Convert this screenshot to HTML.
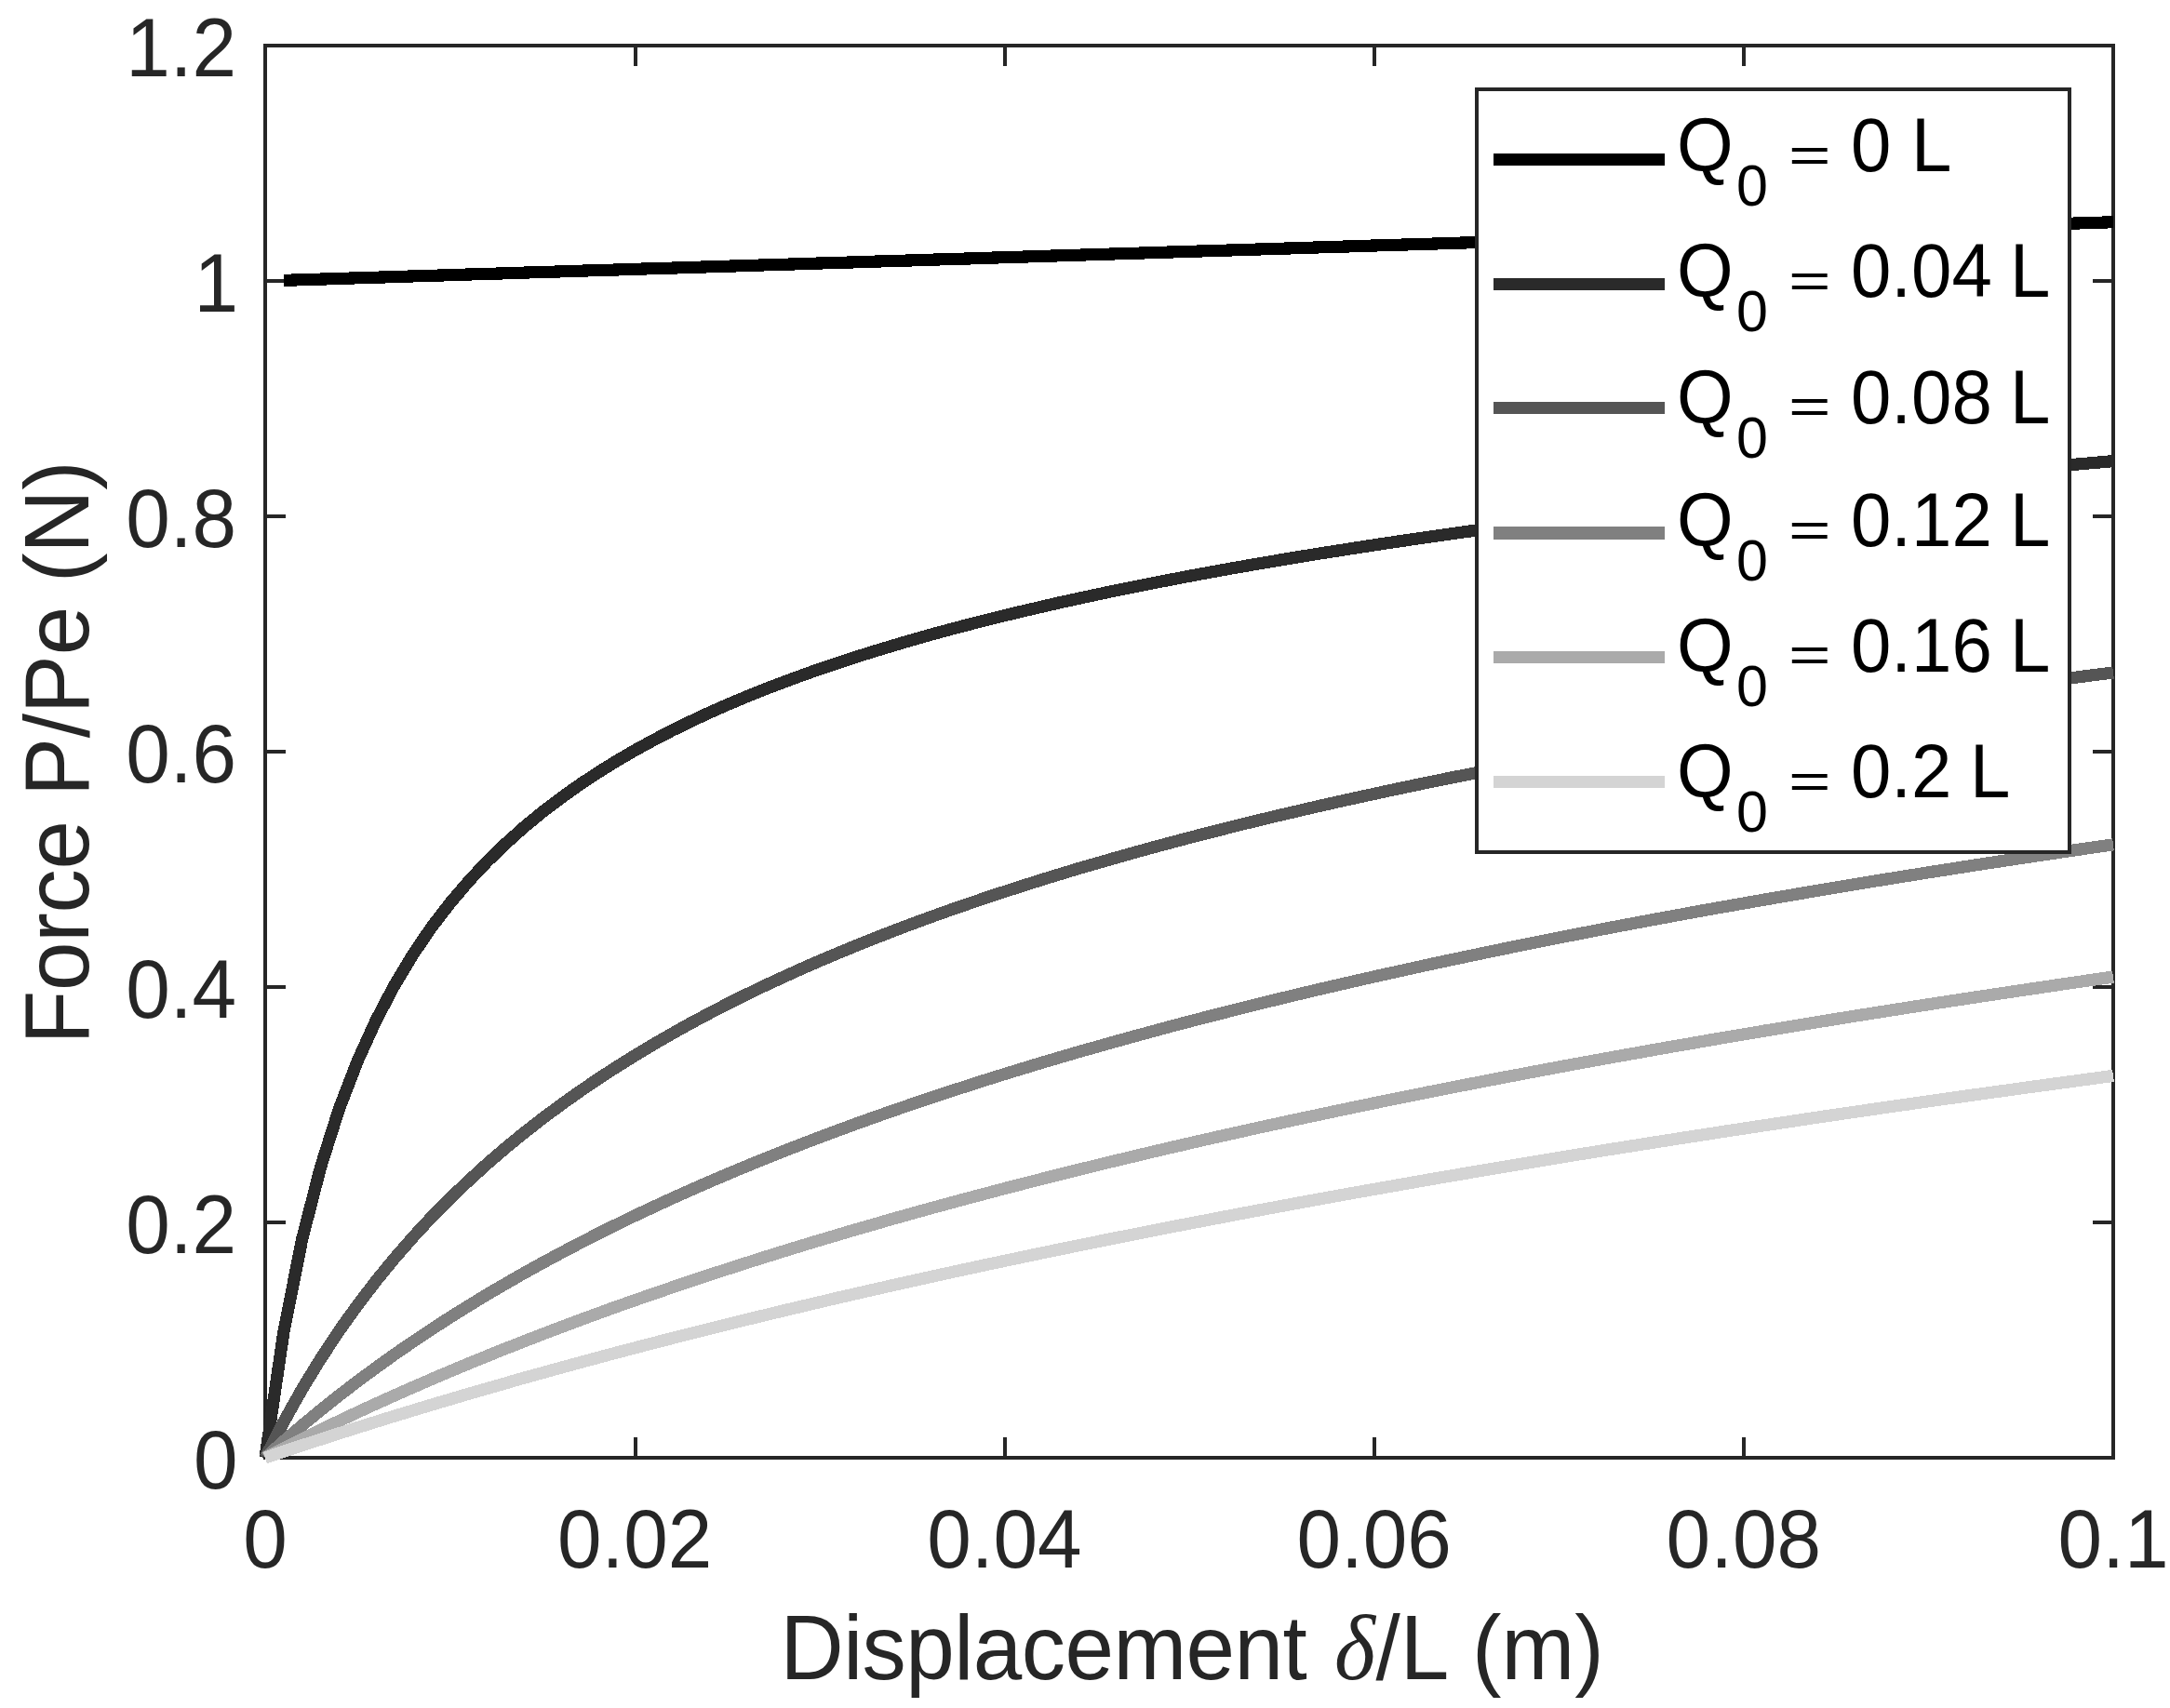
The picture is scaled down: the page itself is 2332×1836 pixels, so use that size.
<!DOCTYPE html>
<html lang="en"><head><meta charset="utf-8"><title>Force vs displacement</title>
<style>html,body{margin:0;padding:0;background:#fff}svg{display:block}text{font-family:"Liberation Sans",Arial,Helvetica,sans-serif;fill:#262626}.tk{font-size:85.5px}.lb{font-size:94.5px}.lg{font-size:78px;fill:#000}.sub{font-size:61px}.dl{font-family:"Liberation Serif","DejaVu Serif",serif;font-style:italic}</style></head><body>
<svg width="2332" height="1836" viewBox="0 0 2332 1836">
<rect width="2332" height="1836" fill="#fff"/>
<g stroke="#262626" stroke-width="4" fill="none" stroke-linecap="butt">
<rect x="285" y="49" width="1986" height="1518"/>
<path d="M683 1567V1545M683 49V71M1080 1567V1545M1080 49V71M1477 1567V1545M1477 49V71M1874 1567V1545M1874 49V71M285 1314H307M2271 1314H2249M285 1061H307M2271 1061H2249M285 808H307M2271 808H2249M285 555H307M2271 555H2249M285 302H307M2271 302H2249"/>
</g>
<g fill="none" stroke-width="13.2" stroke-linejoin="round" stroke-linecap="butt" shape-rendering="crispEdges">
<polyline stroke="#000000" points="304.9,301.4 324.7,300.7 344.6,300.1 364.4,299.5 384.3,298.8 404.2,298.2 424.0,297.6 443.9,296.9 463.7,296.3 483.6,295.7 503.5,295.0 523.3,294.4 543.2,293.8 563.0,293.1 582.9,292.5 602.8,291.9 622.6,291.2 642.5,290.6 662.3,290.0 682.2,289.3 702.1,288.7 721.9,288.1 741.8,287.5 761.6,286.8 781.5,286.2 801.4,285.6 821.2,284.9 841.1,284.3 860.9,283.7 880.8,283.0 900.7,282.4 920.5,281.8 940.4,281.1 960.2,280.5 980.1,279.9 1000.0,279.2 1019.8,278.6 1039.7,278.0 1059.5,277.3 1079.4,276.7 1099.3,276.1 1119.1,275.4 1139.0,274.8 1158.8,274.2 1178.7,273.5 1198.6,272.9 1218.4,272.3 1238.3,271.6 1258.1,271.0 1278.0,270.4 1297.9,269.7 1317.7,269.1 1337.6,268.5 1357.4,267.8 1377.3,267.2 1397.2,266.6 1417.0,265.9 1436.9,265.3 1456.7,264.7 1476.6,264.0 1496.5,263.4 1516.3,262.8 1536.2,262.2 1556.0,261.5 1575.9,260.9 1595.8,260.3 1615.6,259.6 1635.5,259.0 1655.3,258.4 1675.2,257.7 1695.1,257.1 1714.9,256.5 1734.8,255.8 1754.6,255.2 1774.5,254.6 1794.4,253.9 1814.2,253.3 1834.1,252.7 1853.9,252.0 1873.8,251.4 1893.7,250.8 1913.5,250.1 1933.4,249.5 1953.2,248.9 1973.1,248.2 1993.0,247.6 2012.8,247.0 2032.7,246.3 2052.5,245.7 2072.4,245.1 2092.3,244.4 2112.1,243.8 2132.0,243.2 2151.8,242.5 2171.7,241.9 2191.6,241.3 2211.4,240.6 2231.3,240.0 2251.1,239.4 2271.0,238.7"/>
<polyline stroke="#2a2a2a" points="285.0,1567.0 304.9,1431.6 324.7,1331.9 344.6,1254.5 364.4,1192.1 384.3,1140.4 404.2,1096.6 424.0,1058.9 443.9,1025.9 463.7,996.8 483.6,970.9 503.5,947.5 523.3,926.3 543.2,907.0 563.0,889.3 582.9,872.9 602.8,857.8 622.6,843.7 642.5,830.5 662.3,818.2 682.2,806.6 702.1,795.7 721.9,785.4 741.8,775.7 761.6,766.4 781.5,757.6 801.4,749.2 821.2,741.2 841.1,733.6 860.9,726.3 880.8,719.2 900.7,712.5 920.5,706.0 940.4,699.8 960.2,693.8 980.1,688.0 1000.0,682.3 1019.8,676.9 1039.7,671.7 1059.5,666.6 1079.4,661.7 1099.3,656.9 1119.1,652.3 1139.0,647.7 1158.8,643.4 1178.7,639.1 1198.6,634.9 1218.4,630.9 1238.3,626.9 1258.1,623.1 1278.0,619.3 1297.9,615.6 1317.7,612.0 1337.6,608.5 1357.4,605.1 1377.3,601.7 1397.2,598.4 1417.0,595.2 1436.9,592.1 1456.7,589.0 1476.6,585.9 1496.5,582.9 1516.3,580.0 1536.2,577.1 1556.0,574.3 1575.9,571.5 1595.8,568.8 1615.6,566.1 1635.5,563.5 1655.3,560.9 1675.2,558.3 1695.1,555.8 1714.9,553.3 1734.8,550.9 1754.6,548.5 1774.5,546.1 1794.4,543.8 1814.2,541.5 1834.1,539.2 1853.9,537.0 1873.8,534.7 1893.7,532.6 1913.5,530.4 1933.4,528.3 1953.2,526.2 1973.1,524.1 1993.0,522.0 2012.8,520.0 2032.7,518.0 2052.5,516.0 2072.4,514.1 2092.3,512.1 2112.1,510.2 2132.0,508.3 2151.8,506.5 2171.7,504.6 2191.6,502.8 2211.4,500.9 2231.3,499.1 2251.1,497.4 2271.0,495.6"/>
<polyline stroke="#555555" points="285.0,1567.0 304.9,1528.4 324.7,1493.1 344.6,1460.6 364.4,1430.6 384.3,1402.8 404.2,1376.8 424.0,1352.6 443.9,1329.8 463.7,1308.4 483.6,1288.3 503.5,1269.3 523.3,1251.2 543.2,1234.1 563.0,1217.9 582.9,1202.4 602.8,1187.6 622.6,1173.5 642.5,1160.0 662.3,1147.1 682.2,1134.7 702.1,1122.7 721.9,1111.3 741.8,1100.2 761.6,1089.6 781.5,1079.3 801.4,1069.4 821.2,1059.8 841.1,1050.6 860.9,1041.6 880.8,1032.9 900.7,1024.5 920.5,1016.3 940.4,1008.4 960.2,1000.6 980.1,993.1 1000.0,985.8 1019.8,978.7 1039.7,971.8 1059.5,965.1 1079.4,958.5 1099.3,952.1 1119.1,945.8 1139.0,939.7 1158.8,933.7 1178.7,927.9 1198.6,922.2 1218.4,916.6 1238.3,911.1 1258.1,905.8 1278.0,900.5 1297.9,895.4 1317.7,890.4 1337.6,885.4 1357.4,880.6 1377.3,875.8 1397.2,871.2 1417.0,866.6 1436.9,862.1 1456.7,857.7 1476.6,853.4 1496.5,849.1 1516.3,844.9 1536.2,840.8 1556.0,836.7 1575.9,832.8 1595.8,828.8 1615.6,825.0 1635.5,821.2 1655.3,817.4 1675.2,813.7 1695.1,810.1 1714.9,806.5 1734.8,803.0 1754.6,799.5 1774.5,796.1 1794.4,792.7 1814.2,789.4 1834.1,786.1 1853.9,782.8 1873.8,779.6 1893.7,776.5 1913.5,773.3 1933.4,770.3 1953.2,767.2 1973.1,764.2 1993.0,761.2 2012.8,758.3 2032.7,755.4 2052.5,752.5 2072.4,749.7 2092.3,746.9 2112.1,744.1 2132.0,741.4 2151.8,738.6 2171.7,736.0 2191.6,733.3 2211.4,730.7 2231.3,728.1 2251.1,725.5 2271.0,723.0"/>
<polyline stroke="#808080" points="285.0,1567.0 304.9,1549.2 324.7,1532.2 344.6,1515.8 364.4,1500.0 384.3,1484.8 404.2,1470.1 424.0,1455.9 443.9,1442.2 463.7,1429.0 483.6,1416.1 503.5,1403.7 523.3,1391.6 543.2,1380.0 563.0,1368.6 582.9,1357.6 602.8,1346.9 622.6,1336.5 642.5,1326.3 662.3,1316.5 682.2,1306.8 702.1,1297.5 721.9,1288.3 741.8,1279.4 761.6,1270.7 781.5,1262.2 801.4,1253.9 821.2,1245.8 841.1,1237.9 860.9,1230.1 880.8,1222.5 900.7,1215.1 920.5,1207.8 940.4,1200.7 960.2,1193.7 980.1,1186.9 1000.0,1180.2 1019.8,1173.6 1039.7,1167.2 1059.5,1160.8 1079.4,1154.6 1099.3,1148.5 1119.1,1142.5 1139.0,1136.6 1158.8,1130.8 1178.7,1125.2 1198.6,1119.6 1218.4,1114.1 1238.3,1108.7 1258.1,1103.3 1278.0,1098.1 1297.9,1092.9 1317.7,1087.9 1337.6,1082.9 1357.4,1077.9 1377.3,1073.1 1397.2,1068.3 1417.0,1063.6 1436.9,1059.0 1456.7,1054.4 1476.6,1049.9 1496.5,1045.5 1516.3,1041.1 1536.2,1036.7 1556.0,1032.5 1575.9,1028.3 1595.8,1024.1 1615.6,1020.0 1635.5,1015.9 1655.3,1011.9 1675.2,1008.0 1695.1,1004.1 1714.9,1000.2 1734.8,996.4 1754.6,992.7 1774.5,988.9 1794.4,985.3 1814.2,981.6 1834.1,978.0 1853.9,974.5 1873.8,971.0 1893.7,967.5 1913.5,964.1 1933.4,960.7 1953.2,957.3 1973.1,954.0 1993.0,950.7 2012.8,947.4 2032.7,944.2 2052.5,941.0 2072.4,937.8 2092.3,934.7 2112.1,931.6 2132.0,928.5 2151.8,925.5 2171.7,922.5 2191.6,919.5 2211.4,916.6 2231.3,913.6 2251.1,910.7 2271.0,907.9"/>
<polyline stroke="#aaaaaa" points="285.0,1567.0 304.9,1556.8 324.7,1546.8 344.6,1537.0 364.4,1527.5 384.3,1518.1 404.2,1508.9 424.0,1500.0 443.9,1491.2 463.7,1482.6 483.6,1474.1 503.5,1465.8 523.3,1457.7 543.2,1449.7 563.0,1441.9 582.9,1434.2 602.8,1426.6 622.6,1419.2 642.5,1411.9 662.3,1404.7 682.2,1397.7 702.1,1390.8 721.9,1384.0 741.8,1377.3 761.6,1370.7 781.5,1364.2 801.4,1357.8 821.2,1351.5 841.1,1345.3 860.9,1339.2 880.8,1333.2 900.7,1327.3 920.5,1321.4 940.4,1315.7 960.2,1310.0 980.1,1304.4 1000.0,1298.9 1019.8,1293.5 1039.7,1288.1 1059.5,1282.9 1079.4,1277.6 1099.3,1272.5 1119.1,1267.4 1139.0,1262.4 1158.8,1257.4 1178.7,1252.6 1198.6,1247.7 1218.4,1243.0 1238.3,1238.2 1258.1,1233.6 1278.0,1229.0 1297.9,1224.4 1317.7,1220.0 1337.6,1215.5 1357.4,1211.1 1377.3,1206.8 1397.2,1202.5 1417.0,1198.3 1436.9,1194.1 1456.7,1189.9 1476.6,1185.8 1496.5,1181.7 1516.3,1177.7 1536.2,1173.7 1556.0,1169.8 1575.9,1165.9 1595.8,1162.1 1615.6,1158.2 1635.5,1154.5 1655.3,1150.7 1675.2,1147.0 1695.1,1143.3 1714.9,1139.7 1734.8,1136.1 1754.6,1132.6 1774.5,1129.0 1794.4,1125.5 1814.2,1122.1 1834.1,1118.6 1853.9,1115.2 1873.8,1111.9 1893.7,1108.5 1913.5,1105.2 1933.4,1101.9 1953.2,1098.7 1973.1,1095.4 1993.0,1092.2 2012.8,1089.1 2032.7,1085.9 2052.5,1082.8 2072.4,1079.7 2092.3,1076.6 2112.1,1073.6 2132.0,1070.6 2151.8,1067.6 2171.7,1064.6 2191.6,1061.7 2211.4,1058.7 2231.3,1055.8 2251.1,1052.9 2271.0,1050.1"/>
<polyline stroke="#d4d4d4" points="285.0,1567.0 304.9,1560.3 324.7,1553.7 344.6,1547.2 364.4,1540.8 384.3,1534.5 404.2,1528.3 424.0,1522.1 443.9,1516.1 463.7,1510.1 483.6,1504.2 503.5,1498.3 523.3,1492.6 543.2,1486.9 563.0,1481.2 582.9,1475.7 602.8,1470.2 622.6,1464.8 642.5,1459.4 662.3,1454.1 682.2,1448.9 702.1,1443.7 721.9,1438.6 741.8,1433.6 761.6,1428.6 781.5,1423.6 801.4,1418.7 821.2,1413.9 841.1,1409.1 860.9,1404.4 880.8,1399.7 900.7,1395.0 920.5,1390.5 940.4,1385.9 960.2,1381.4 980.1,1377.0 1000.0,1372.6 1019.8,1368.2 1039.7,1363.9 1059.5,1359.6 1079.4,1355.4 1099.3,1351.2 1119.1,1347.0 1139.0,1342.9 1158.8,1338.9 1178.7,1334.8 1198.6,1330.8 1218.4,1326.9 1238.3,1322.9 1258.1,1319.0 1278.0,1315.2 1297.9,1311.4 1317.7,1307.6 1337.6,1303.8 1357.4,1300.1 1377.3,1296.4 1397.2,1292.7 1417.0,1289.1 1436.9,1285.5 1456.7,1281.9 1476.6,1278.4 1496.5,1274.9 1516.3,1271.4 1536.2,1267.9 1556.0,1264.5 1575.9,1261.1 1595.8,1257.7 1615.6,1254.4 1635.5,1251.1 1655.3,1247.8 1675.2,1244.5 1695.1,1241.2 1714.9,1238.0 1734.8,1234.8 1754.6,1231.7 1774.5,1228.5 1794.4,1225.4 1814.2,1222.3 1834.1,1219.2 1853.9,1216.1 1873.8,1213.1 1893.7,1210.1 1913.5,1207.1 1933.4,1204.1 1953.2,1201.1 1973.1,1198.2 1993.0,1195.3 2012.8,1192.4 2032.7,1189.5 2052.5,1186.7 2072.4,1183.8 2092.3,1181.0 2112.1,1178.2 2132.0,1175.4 2151.8,1172.7 2171.7,1169.9 2191.6,1167.2 2211.4,1164.5 2231.3,1161.8 2251.1,1159.1 2271.0,1156.4"/>
</g>
<rect x="1587" y="96" width="637" height="820" fill="#fff" stroke="#262626" stroke-width="4"/>
<g stroke-width="13.2" shape-rendering="crispEdges">
<line x1="1605" x2="1789" y1="171.2" y2="171.2" stroke="#000000"/>
<line x1="1605" x2="1789" y1="305.4" y2="305.4" stroke="#2a2a2a"/>
<line x1="1605" x2="1789" y1="438.8" y2="438.8" stroke="#555555"/>
<line x1="1605" x2="1789" y1="572.9" y2="572.9" stroke="#808080"/>
<line x1="1605" x2="1789" y1="706.4" y2="706.4" stroke="#aaaaaa"/>
<line x1="1605" x2="1789" y1="840.6" y2="840.6" stroke="#d4d4d4"/>
</g>
<text class="lg" transform="translate(0 184.1) scale(1 1.045)"><tspan x="1802">Q</tspan><tspan class="sub" x="1866" dy="35.4">0</tspan><tspan x="1989" dy="-35.4">0</tspan><tspan x="2054">L</tspan></text>
<text class="lg" transform="translate(0 319.2) scale(1 1.045)"><tspan x="1802">Q</tspan><tspan class="sub" x="1866" dy="35.4">0</tspan><tspan x="1989" dy="-35.4">0.04</tspan><tspan x="2160">L</tspan></text>
<text class="lg" transform="translate(0 455.0) scale(1 1.045)"><tspan x="1802">Q</tspan><tspan class="sub" x="1866" dy="35.4">0</tspan><tspan x="1989" dy="-35.4">0.08</tspan><tspan x="2160">L</tspan></text>
<text class="lg" transform="translate(0 587.1) scale(1 1.045)"><tspan x="1802">Q</tspan><tspan class="sub" x="1866" dy="35.4">0</tspan><tspan x="1989" dy="-35.4">0.12</tspan><tspan x="2160">L</tspan></text>
<text class="lg" transform="translate(0 722.0) scale(1 1.045)"><tspan x="1802">Q</tspan><tspan class="sub" x="1866" dy="35.4">0</tspan><tspan x="1989" dy="-35.4">0.16</tspan><tspan x="2160">L</tspan></text>
<text class="lg" transform="translate(0 857.1) scale(1 1.045)"><tspan x="1802">Q</tspan><tspan class="sub" x="1866" dy="35.4">0</tspan><tspan x="1989" dy="-35.4">0.2</tspan><tspan x="2117">L</tspan></text>
<text class="lg" transform="translate(1922 184.5) scale(1 0.7)">=</text>
<text class="lg" transform="translate(1922 319.6) scale(1 0.7)">=</text>
<text class="lg" transform="translate(1922 455.4) scale(1 0.7)">=</text>
<text class="lg" transform="translate(1922 587.5) scale(1 0.7)">=</text>
<text class="lg" transform="translate(1922 722.4) scale(1 0.7)">=</text>
<text class="lg" transform="translate(1922 857.5) scale(1 0.7)">=</text>
<text class="tk" text-anchor="middle" transform="translate(285.0 1684.5) scale(1 1.03)">0</text>
<text class="tk" text-anchor="middle" transform="translate(682.2 1684.5) scale(1 1.03)">0.02</text>
<text class="tk" text-anchor="middle" transform="translate(1079.4 1684.5) scale(1 1.03)">0.04</text>
<text class="tk" text-anchor="middle" transform="translate(1476.6 1684.5) scale(1 1.03)">0.06</text>
<text class="tk" text-anchor="middle" transform="translate(1873.8 1684.5) scale(1 1.03)">0.08</text>
<text class="tk" text-anchor="middle" transform="translate(2271.0 1684.5) scale(1 1.03)">0.1</text>
<text class="tk" text-anchor="end" transform="translate(255.5 1600) scale(1 1.03)">0</text>
<text class="tk" text-anchor="end" transform="translate(254 1347) scale(1 1.03)">0.2</text>
<text class="tk" text-anchor="end" transform="translate(254 1094) scale(1 1.03)">0.4</text>
<text class="tk" text-anchor="end" transform="translate(254 841) scale(1 1.03)">0.6</text>
<text class="tk" text-anchor="end" transform="translate(254 588) scale(1 1.03)">0.8</text>
<text class="tk" text-anchor="end" transform="translate(256 335) scale(1 1.03)">1</text>
<text class="tk" text-anchor="end" transform="translate(254 82) scale(1 1.03)">1.2</text>
<text class="lb" transform="translate(0 1805) scale(1 1.045)"><tspan x="838.5" letter-spacing="-0.55">Displacement</tspan><tspan class="dl" x="1434">δ</tspan><tspan x="1478.5">/L</tspan><tspan x="1582">(m)</tspan></text>
<text class="lb" text-anchor="middle" letter-spacing="-0.2" transform="translate(95 809) rotate(-90) scale(1 1.045)">Force P/Pe (N)</text>
</svg></body></html>
